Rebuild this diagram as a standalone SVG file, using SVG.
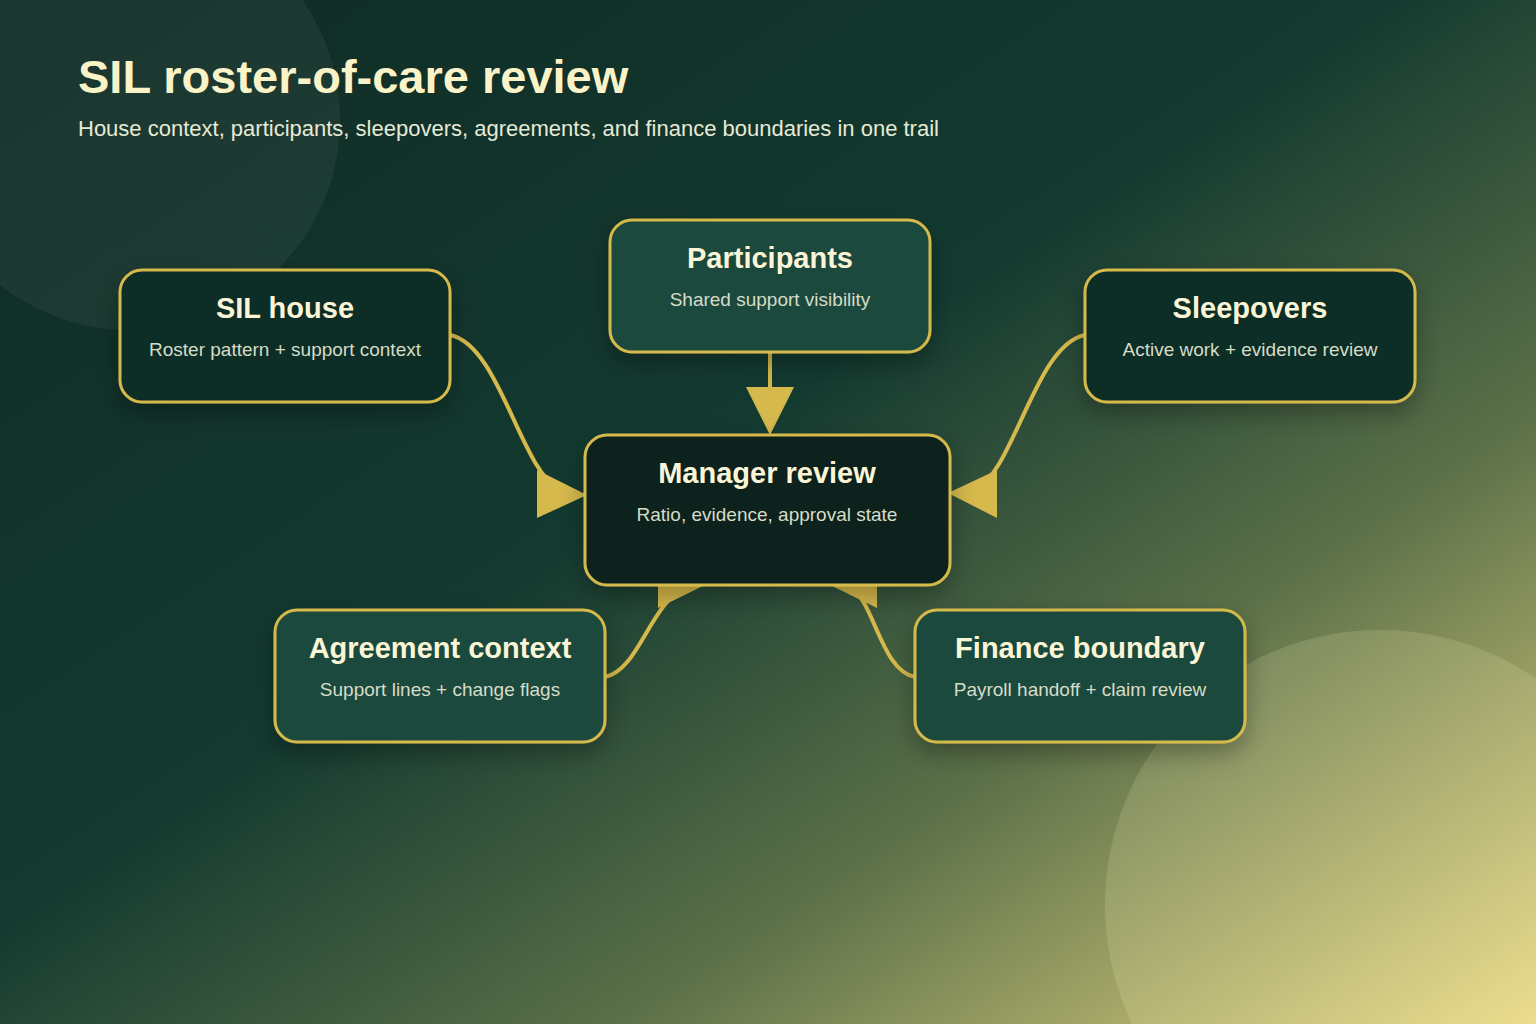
<svg xmlns="http://www.w3.org/2000/svg" width="1536" height="1024" viewBox="0 0 1536 1024">
<defs>
<linearGradient id="bg" x1="0" y1="0" x2="1" y2="1">
<stop offset="0" stop-color="#0f2b24"/>
<stop offset="0.45" stop-color="#133a30"/>
<stop offset="0.7" stop-color="#5b7048"/>
<stop offset="1" stop-color="#e9d985"/>
</linearGradient>
<filter id="sh" x="-20%" y="-20%" width="140%" height="150%"><feDropShadow dx="0" dy="10" stdDeviation="12" flood-color="#000" flood-opacity="0.3"/></filter>
</defs>
<style>
.box{stroke:#d6b94c;stroke-width:3;filter:url(#sh)}
.dark{fill:#102d26}.mid{fill:#1a4a3c}
.t{font-family:"Liberation Sans",Arial,sans-serif;font-weight:bold;font-size:29px;fill:#fbf5d8;text-anchor:middle}
.s{font-family:"Liberation Sans",Arial,sans-serif;font-size:19px;fill:#d5dcc8;text-anchor:middle}
.c{fill:none;stroke:#d6b94c;stroke-width:4}
.a{fill:#d6b94c}
</style>
<rect width="1536" height="1024" fill="url(#bg)"/>
<circle cx="130" cy="120" r="210" fill="#ffffff" opacity="0.05"/>
<circle cx="1380" cy="905" r="275" fill="#fff6c0" opacity="0.15"/>
<text x="78" y="93" font-family="Liberation Sans,Arial,sans-serif" font-weight="bold" font-size="47" fill="#fbf3c8">SIL roster-of-care review</text>
<text x="78" y="136" font-family="Liberation Sans,Arial,sans-serif" font-size="22" fill="#e6ead6">House context, participants, sleepovers, agreements, and finance boundaries in one trail</text>
<g id="connectors">
<path class="c" d="M450,335 C500,345 520,470 560,490"/>
<polygon class="a" points="537,470 537,518 587,495"/>
<path class="c" d="M770,352 L770,395"/>
<polygon class="a" points="746,387 794,387 770,435"/>
<path class="c" d="M1085,335 C1035,345 1015,470 975,490"/>
<polygon class="a" points="997,470 997,518 948,493"/>
<path class="c" d="M605,677 C640,670 650,600 690,585"/>
<polygon class="a" points="658,562 658,608 707,584"/>
<path class="c" d="M915,677 C880,670 875,600 848,585"/>
<polygon class="a" points="877,562 877,608 828,584"/>
</g>
<g id="sil-house"><rect class="box dark" x="120" y="270" width="330" height="132" rx="22"/><text class="t" x="285" y="318">SIL house</text><text class="s" x="285" y="356">Roster pattern + support context</text></g>
<g id="participants"><rect class="box mid" x="610" y="220" width="320" height="132" rx="22"/><text class="t" x="770" y="268">Participants</text><text class="s" x="770" y="306">Shared support visibility</text></g>
<g id="sleepovers"><rect class="box dark" x="1085" y="270" width="330" height="132" rx="22"/><text class="t" x="1250" y="318">Sleepovers</text><text class="s" x="1250" y="356">Active work + evidence review</text></g>
<g id="manager-review"><rect class="box" fill="#0f231d" stroke="#f3e7a0" x="585" y="435" width="365" height="150" rx="22"/><text class="t" x="767" y="483">Manager review</text><text class="s" x="767" y="521">Ratio, evidence, approval state</text></g>
<g id="agreement-context"><rect class="box mid" x="275" y="610" width="330" height="132" rx="22"/><text class="t" x="440" y="658">Agreement context</text><text class="s" x="440" y="696">Support lines + change flags</text></g>
<g id="finance-boundary"><rect class="box mid" x="915" y="610" width="330" height="132" rx="22"/><text class="t" x="1080" y="658">Finance boundary</text><text class="s" x="1080" y="696">Payroll handoff + claim review</text></g>
</svg>
